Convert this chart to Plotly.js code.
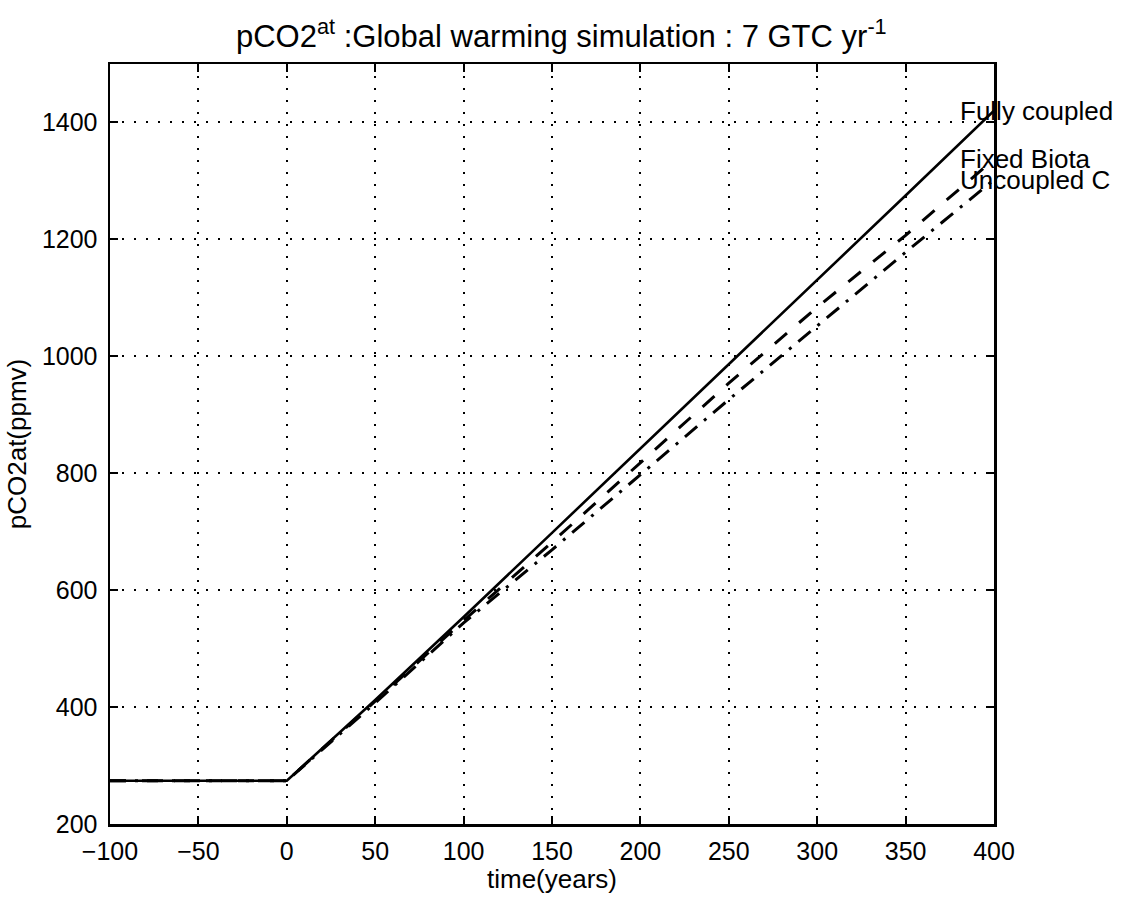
<!DOCTYPE html>
<html>
<head>
<meta charset="utf-8">
<script src="https://cdn.plot.ly/plotly-3.0.1.min.js"></script>
<style>html,body{margin:0;padding:0;background:#fff}#chart{width:1134px;height:903px}</style>
</head>
<body>
<div id="chart"></div>
<script>
// time (years)
const time = [-100, 0, 50, 100, 150, 200, 250, 300, 350, 400];
// pCO2 atmosphere (ppmv)
const fullyCoupled = [274, 274, 412, 554, 698, 842, 987, 1131, 1275, 1420];
const fixedBiota   = [274, 274, 410, 548, 682, 818, 954, 1084, 1207, 1337];
const uncoupledC   = [274, 274, 407, 544, 669, 797, 926, 1052, 1178, 1302];
const seriesNames  = ["Fully coupled", "Fixed Biota", "Uncoupled C"];
const xTicks = [-100, -50, 0, 50, 100, 150, 200, 250, 300, 350, 400];
const yTicks = [200, 400, 600, 800, 1000, 1200, 1400];
const labelX = 380;

const FONT = "Liberation Sans, Arial, Helvetica, sans-serif";

const traces = [
  {x: time, y: fullyCoupled, name: seriesNames[0], mode: "lines",
   line: {color: "#000", width: 2.6}},
  {x: time, y: fixedBiota, name: seriesNames[1], mode: "lines",
   line: {color: "#000", width: 3, dash: "16px,16px"}},
  {x: time, y: uncoupledC, name: seriesNames[2], mode: "lines",
   line: {color: "#000", width: 3, dash: "16px,9px,3px,9px"}}
];

const series = [fullyCoupled, fixedBiota, uncoupledC];
const annotations = seriesNames.map((n, i) => ({
  x: labelX, y: series[i][series[i].length - 1], xref: "x", yref: "y",
  text: n, showarrow: false, xanchor: "left", yanchor: "middle",
  font: {family: FONT, size: 26, color: "#000"}, borderpad: 0
}));

const axisCommon = {
  showline: true, linecolor: "#000", linewidth: 2.5, mirror: "ticks",
  ticks: "inside", ticklen: 8, tickwidth: 2, tickcolor: "#000",
  showgrid: true, gridcolor: "#000", gridwidth: 2, griddash: "2px,10px",
  zeroline: false, tickfont: {family: FONT, size: 25, color: "#000"}
};

const layout = {
  width: 1134, height: 903,
  margin: {l: 110, r: 140, t: 64, b: 79},
  paper_bgcolor: "#fff", plot_bgcolor: "#fff",
  showlegend: false,
  title: {
    text: "pCO2<sup>at</sup> :Global warming simulation : 7 GTC yr<sup>-1</sup>",
    font: {family: FONT, size: 31, color: "#000"},
    x: 0.495, xanchor: "center", y: 0.96, yanchor: "middle"
  },
  xaxis: Object.assign({}, axisCommon, {
    range: [-100, 400], tickvals: xTicks, ticklabelstandoff: 3,
    title: {text: "time(years)", font: {family: FONT, size: 26, color: "#000"}, standoff: 6}
  }),
  yaxis: Object.assign({}, axisCommon, {
    range: [200, 1500], tickvals: yTicks, ticklabelstandoff: 5,
    title: {text: "pCO2at(ppmv)", font: {family: FONT, size: 26, color: "#000"}, standoff: 8}
  }),
  annotations: annotations
};

Plotly.newPlot("chart", traces, layout, {displayModeBar: false, staticPlot: true});
</script>
</body>
</html>
